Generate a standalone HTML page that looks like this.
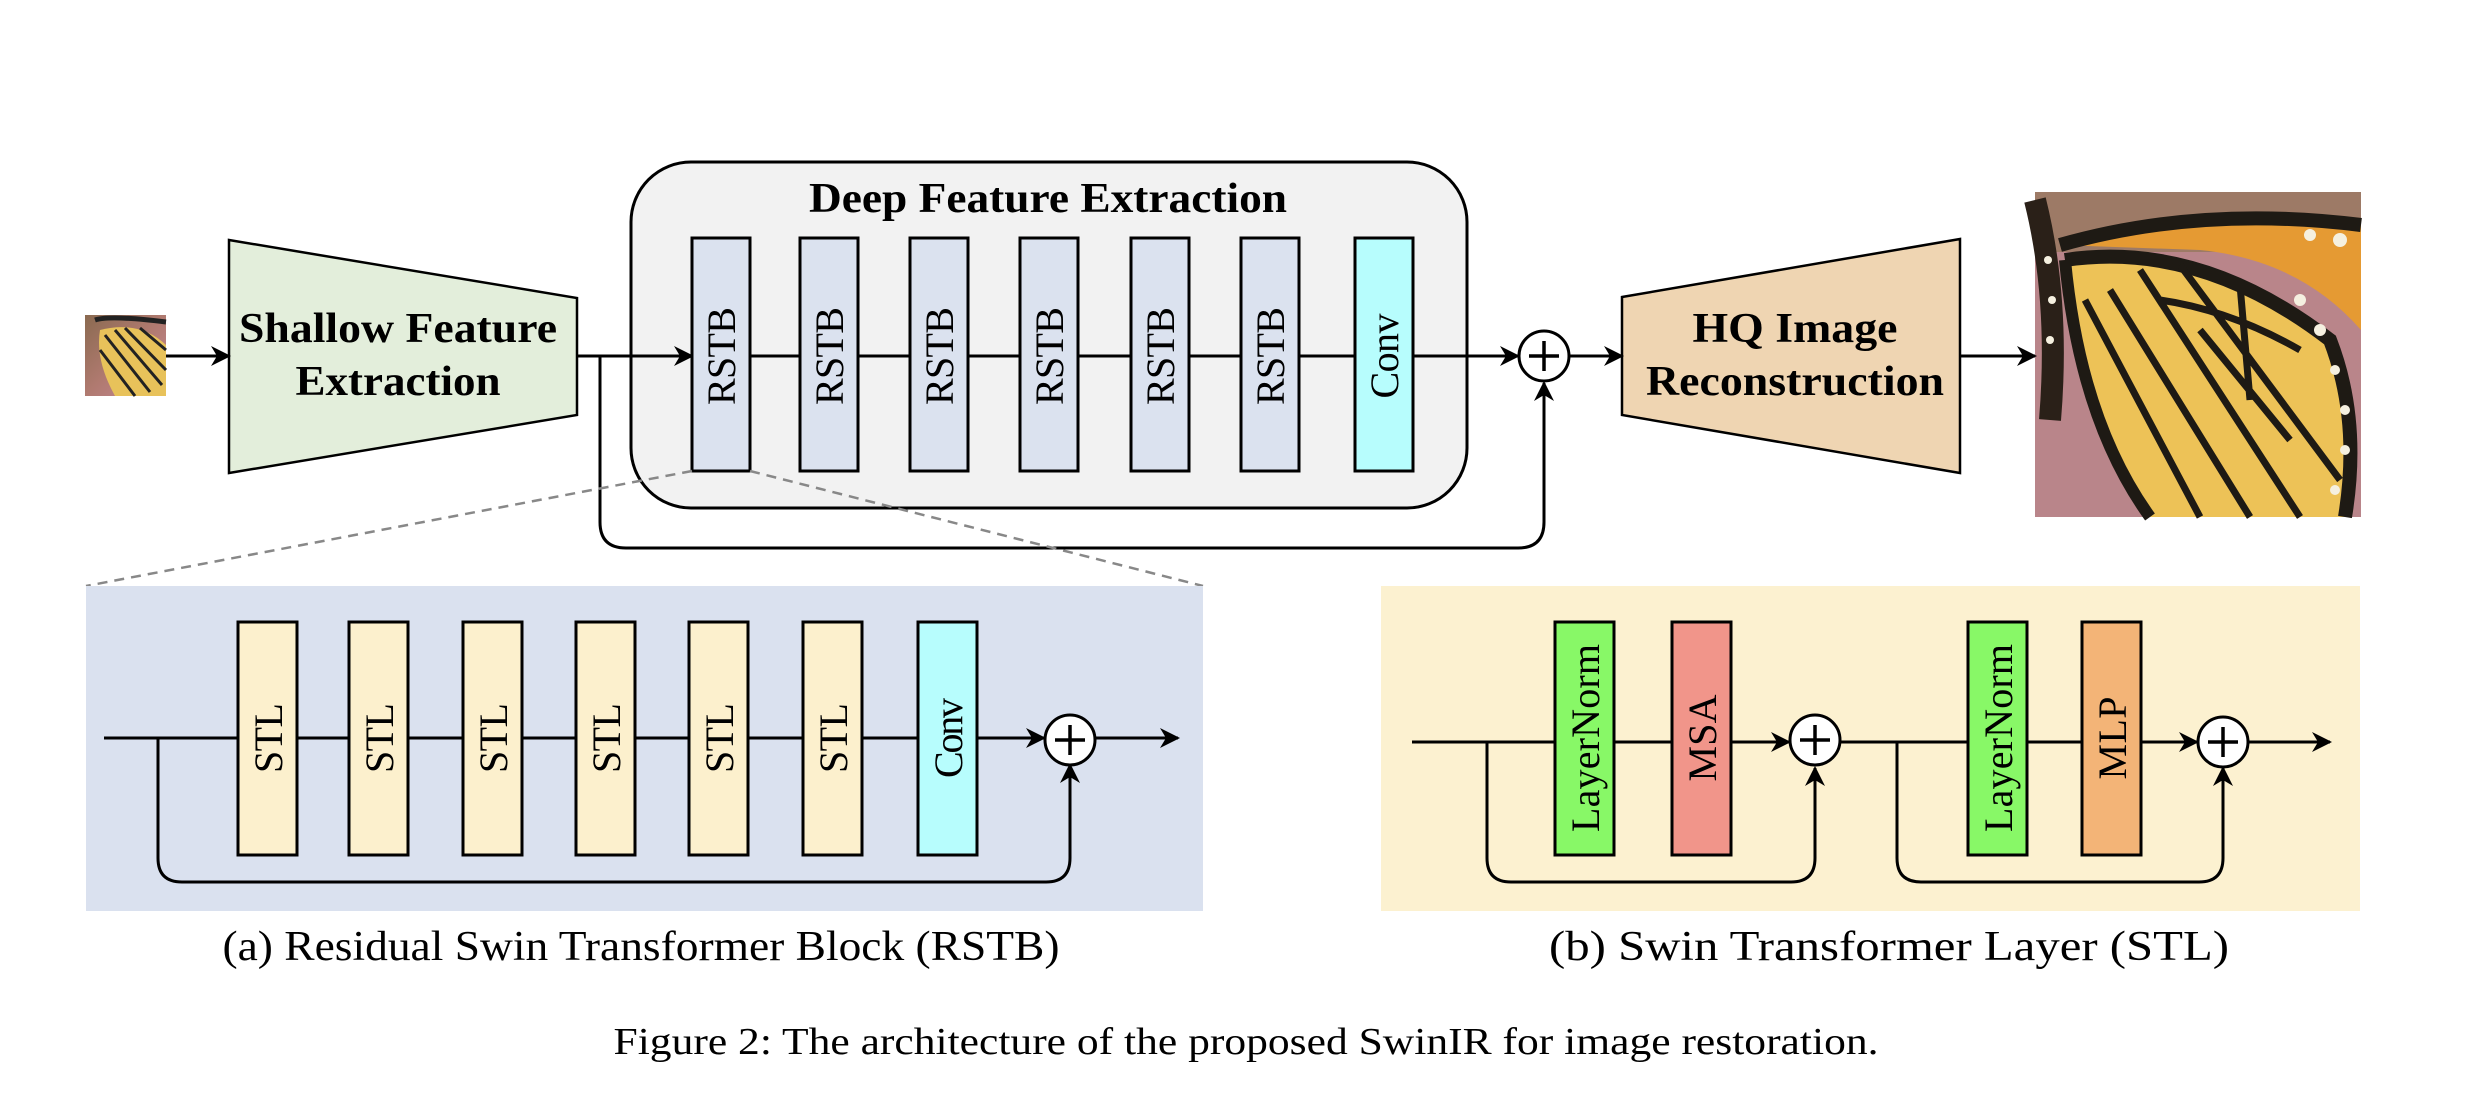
<!DOCTYPE html>
<html><head><meta charset="utf-8"><style>
html,body{margin:0;padding:0;background:#fff;}
svg{display:block;}
text{font-family:"Liberation Serif",serif;}
</style></head><body>
<svg width="2486" height="1116" viewBox="0 0 2486 1116" xmlns="http://www.w3.org/2000/svg">
<defs>
<marker id="ah" viewBox="0 0 20 20" refX="18" refY="10" markerWidth="20" markerHeight="20" markerUnits="userSpaceOnUse" orient="auto">
<path d="M0,0 L20,10 L0,20 L6,10 Z" fill="#000"/>
</marker>
<linearGradient id="bg1" x1="0" y1="0" x2="1" y2="1">
<stop offset="0" stop-color="#8a6a50"/><stop offset="0.5" stop-color="#b07a70"/><stop offset="1" stop-color="#c7889a"/>
</linearGradient>
</defs>

<!-- small butterfly -->
<g>
<rect x="85" y="315" width="81" height="81" fill="url(#bg1)"/>
<path d="M100,330 Q140,320 166,345 L166,396 L115,396 Q95,360 100,330Z" fill="#e8c25a"/>
<path d="M105,335 L150,392 M115,330 L162,385 M125,328 L166,370 M100,350 L135,396 M140,328 L166,350" stroke="#222" stroke-width="3" fill="none"/>
<path d="M95,320 Q110,315 166,322" stroke="#222" stroke-width="5" fill="none"/>
</g>

<!-- big butterfly -->
<g>
<rect x="2035" y="192" width="326" height="325" fill="#b9858a"/>
<rect x="2035" y="192" width="326" height="60" fill="#9d7a66"/>
<path d="M2060,245 Q2200,200 2361,220 L2361,330 Q2300,260 2200,250 Z" fill="#e59a33"/>
<path d="M2065,260 Q2200,240 2330,340 Q2361,420 2345,517 L2150,517 Q2080,420 2065,260Z" fill="#edc257"/>
<path d="M2060,245 Q2200,205 2361,225" stroke="#1e1a14" stroke-width="14" fill="none"/>
<path d="M2065,260 Q2200,240 2330,340 Q2361,420 2345,517" stroke="#1e1a14" stroke-width="14" fill="none"/>
<path d="M2065,260 Q2080,420 2150,517" stroke="#1e1a14" stroke-width="12" fill="none"/>
<path d="M2085,300 L2200,517 M2110,290 L2250,517 M2140,270 L2300,517 M2180,265 L2340,480 M2240,285 L2250,400 M2160,300 Q2230,310 2300,350 M2200,330 L2290,440" stroke="#1e1a14" stroke-width="7" fill="none"/>
<path d="M2035,200 Q2060,300 2050,420" stroke="#2a2018" stroke-width="22" fill="none"/>
<g fill="#f5f0e0">
<circle cx="2300" cy="300" r="6"/><circle cx="2320" cy="330" r="6"/><circle cx="2335" cy="370" r="5"/><circle cx="2345" cy="410" r="5"/><circle cx="2345" cy="450" r="5"/><circle cx="2335" cy="490" r="5"/><circle cx="2340" cy="240" r="7"/><circle cx="2310" cy="235" r="6"/><circle cx="2048" cy="260" r="4"/><circle cx="2052" cy="300" r="4"/><circle cx="2050" cy="340" r="4"/>
</g>
</g>

<!-- shallow trapezoid -->
<polygon points="229,240 577,298 577,415 229,473" fill="#e3eedb" stroke="#000" stroke-width="2.5"/>
<text x="398" y="342" font-size="42" font-weight="bold" text-anchor="middle" textLength="318" lengthAdjust="spacingAndGlyphs">Shallow Feature</text>
<text x="398" y="395" font-size="42" font-weight="bold" text-anchor="middle" textLength="205" lengthAdjust="spacingAndGlyphs">Extraction</text>

<!-- HQ trapezoid -->
<polygon points="1622,297 1960,239 1960,473 1622,415" fill="#efd5b2" stroke="#000" stroke-width="2.5"/>
<text x="1795" y="342" font-size="42" font-weight="bold" text-anchor="middle" textLength="205" lengthAdjust="spacingAndGlyphs">HQ Image</text>
<text x="1795" y="395" font-size="42" font-weight="bold" text-anchor="middle" textLength="298" lengthAdjust="spacingAndGlyphs">Reconstruction</text>

<!-- DFE box -->
<rect x="631" y="162" width="836" height="346" rx="60" ry="60" fill="#f2f2f2" stroke="#000" stroke-width="3"/>
<text x="1048" y="212" font-size="42" font-weight="bold" text-anchor="middle" textLength="478" lengthAdjust="spacingAndGlyphs">Deep Feature Extraction</text>

<!-- main flow lines -->
<line x1="166" y1="356" x2="229" y2="356" stroke="#000" stroke-width="3" marker-end="url(#ah)"/>
<line x1="577" y1="356" x2="692" y2="356" stroke="#000" stroke-width="3" marker-end="url(#ah)"/>
<line x1="750" y1="356" x2="1355" y2="356" stroke="#000" stroke-width="3"/>
<line x1="1414" y1="356" x2="1518" y2="356" stroke="#000" stroke-width="3" marker-end="url(#ah)"/>
<line x1="1570" y1="356" x2="1622" y2="356" stroke="#000" stroke-width="3" marker-end="url(#ah)"/>
<line x1="1960" y1="356" x2="2035" y2="356" stroke="#000" stroke-width="3" marker-end="url(#ah)"/>
<path d="M600,356 L600,522 Q600,548 626,548 L1518,548 Q1544,548 1544,522 L1544,383" fill="none" stroke="#000" stroke-width="3" marker-end="url(#ah)"/>

<!-- RSTB blocks -->
<g stroke="#000" stroke-width="3" fill="#dbe2ef">
<rect x="692" y="238" width="58" height="233"/>
<rect x="800" y="238" width="58" height="233"/>
<rect x="910" y="238" width="58" height="233"/>
<rect x="1020" y="238" width="58" height="233"/>
<rect x="1131" y="238" width="58" height="233"/>
<rect x="1241" y="238" width="58" height="233"/>
<rect x="1355" y="238" width="58" height="233" fill="#b7fdfd"/>
</g>
<g font-size="40" text-anchor="middle" lengthAdjust="spacingAndGlyphs">
<text transform="translate(735,356) rotate(-90)" textLength="98">RSTB</text>
<text transform="translate(843,356) rotate(-90)" textLength="98">RSTB</text>
<text transform="translate(953,356) rotate(-90)" textLength="98">RSTB</text>
<text transform="translate(1063,356) rotate(-90)" textLength="98">RSTB</text>
<text transform="translate(1174,356) rotate(-90)" textLength="98">RSTB</text>
<text transform="translate(1284,356) rotate(-90)" textLength="98">RSTB</text>
<text transform="translate(1398,356) rotate(-90)" textLength="85">Conv</text>
</g>

<!-- plus circle -->
<circle cx="1544" cy="356" r="25" fill="#fff" stroke="#000" stroke-width="3"/>
<path d="M1529,356 H1559 M1544,341 V371" stroke="#000" stroke-width="3.5"/>

<!-- dashed zoom lines -->
<line x1="692" y1="471" x2="86" y2="586" stroke="#888" stroke-width="2.5" stroke-dasharray="10,7"/>
<line x1="750" y1="471" x2="1203" y2="586" stroke="#888" stroke-width="2.5" stroke-dasharray="10,7"/>

<!-- Panel a -->
<rect x="86" y="586" width="1117" height="325" fill="#dae1ef"/>
<line x1="104" y1="738" x2="1044" y2="738" stroke="#000" stroke-width="3" marker-end="url(#ah)"/>
<line x1="1096" y1="738" x2="1178" y2="738" stroke="#000" stroke-width="3" marker-end="url(#ah)"/>
<path d="M158,738 L158,858 Q158,882 182,882 L1046,882 Q1070,882 1070,858 L1070,765" fill="none" stroke="#000" stroke-width="3" marker-end="url(#ah)"/>
<g stroke="#000" stroke-width="3" fill="#fcf0cd">
<rect x="238" y="622" width="59" height="233"/>
<rect x="349" y="622" width="59" height="233"/>
<rect x="463" y="622" width="59" height="233"/>
<rect x="576" y="622" width="59" height="233"/>
<rect x="689" y="622" width="59" height="233"/>
<rect x="803" y="622" width="59" height="233"/>
<rect x="918" y="622" width="59" height="233" fill="#b7fdfd"/>
</g>
<g font-size="40" text-anchor="middle" lengthAdjust="spacingAndGlyphs">
<text transform="translate(282,738) rotate(-90)" textLength="70">STL</text>
<text transform="translate(393,738) rotate(-90)" textLength="70">STL</text>
<text transform="translate(507,738) rotate(-90)" textLength="70">STL</text>
<text transform="translate(620,738) rotate(-90)" textLength="70">STL</text>
<text transform="translate(733,738) rotate(-90)" textLength="70">STL</text>
<text transform="translate(847,738) rotate(-90)" textLength="70">STL</text>
<text transform="translate(962,738) rotate(-90)" textLength="80">Conv</text>
</g>
<circle cx="1070" cy="740" r="25" fill="#fff" stroke="#000" stroke-width="3"/>
<path d="M1055,740 H1085 M1070,725 V755" stroke="#000" stroke-width="3.5"/>
<text x="641" y="960" font-size="42" text-anchor="middle" textLength="837" lengthAdjust="spacingAndGlyphs">(a) Residual Swin Transformer Block (RSTB)</text>

<!-- Panel b -->
<rect x="1381" y="586" width="979" height="325" fill="#fcf1d0"/>
<line x1="1412" y1="742" x2="1789" y2="742" stroke="#000" stroke-width="3" marker-end="url(#ah)"/>
<line x1="1841" y1="742" x2="2197" y2="742" stroke="#000" stroke-width="3" marker-end="url(#ah)"/>
<line x1="2249" y1="742" x2="2330" y2="742" stroke="#000" stroke-width="3" marker-end="url(#ah)"/>
<path d="M1487,742 L1487,858 Q1487,882 1511,882 L1791,882 Q1815,882 1815,858 L1815,768" fill="none" stroke="#000" stroke-width="3" marker-end="url(#ah)"/>
<path d="M1897,742 L1897,858 Q1897,882 1921,882 L2199,882 Q2223,882 2223,858 L2223,768" fill="none" stroke="#000" stroke-width="3" marker-end="url(#ah)"/>
<g stroke="#000" stroke-width="3">
<rect x="1555" y="622" width="59" height="233" fill="#88f867"/>
<rect x="1672" y="622" width="59" height="233" fill="#f1958a"/>
<rect x="1968" y="622" width="59" height="233" fill="#88f867"/>
<rect x="2082" y="622" width="59" height="233" fill="#f3b477"/>
</g>
<g font-size="40" text-anchor="middle" lengthAdjust="spacingAndGlyphs">
<text transform="translate(1599,738) rotate(-90)" textLength="188">LayerNorm</text>
<text transform="translate(1716,738) rotate(-90)" textLength="87">MSA</text>
<text transform="translate(2012,738) rotate(-90)" textLength="188">LayerNorm</text>
<text transform="translate(2126,738) rotate(-90)" textLength="83">MLP</text>
</g>
<circle cx="1815" cy="740" r="25" fill="#fff" stroke="#000" stroke-width="3"/>
<path d="M1800,740 H1830 M1815,725 V755" stroke="#000" stroke-width="3.5"/>
<circle cx="2223" cy="742" r="25" fill="#fff" stroke="#000" stroke-width="3"/>
<path d="M2208,742 H2238 M2223,727 V757" stroke="#000" stroke-width="3.5"/>
<text x="1889" y="960" font-size="42" text-anchor="middle" textLength="680" lengthAdjust="spacingAndGlyphs">(b) Swin Transformer Layer (STL)</text>

<!-- figure caption -->
<text x="1246" y="1054" font-size="38" text-anchor="middle" textLength="1265" lengthAdjust="spacingAndGlyphs">Figure 2: The architecture of the proposed SwinIR for image restoration.</text>
</svg>
</body></html>
